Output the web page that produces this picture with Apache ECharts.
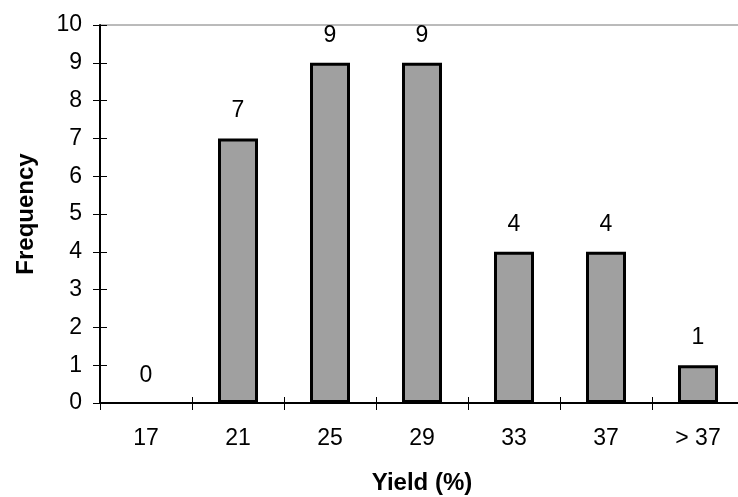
<!DOCTYPE html>
<html><head><meta charset="utf-8">
<script src="https://cdn.jsdelivr.net/npm/echarts@6/dist/echarts.min.js"></script>
<style>html,body{margin:0;padding:0;background:#fff}#c{width:738px;height:497px}</style>
</head><body><div id="c"></div>
<script>
const categories = ['17','21','25','29','33','37','> 37'];
const frequency = [0,7,9,9,4,4,1];
const yTicks = [0,1,2,3,4,5,6,7,8,9,10];

const chart = echarts.init(document.getElementById('c'), null, {renderer:'canvas'});
const font = '"Liberation Sans", Arial, sans-serif';
const tickFont = 23;
chart.setOption({
  animation:false,
  backgroundColor:'#fff',
  textStyle:{fontFamily:font},
  grid:{left:100,right:-6,top:25,bottom:94,containLabel:false,outerBoundsMode:'none',show:true,borderColor:'#777',borderWidth:1,backgroundColor:'transparent'},
  xAxis:[{
    type:'category', data:categories,
    name:'Yield (%)', nameLocation:'middle', nameGap:68,
    nameTextStyle:{fontFamily:font,fontWeight:'bold',fontSize:24,color:'#000'},
    axisLine:{lineStyle:{color:'#000',width:2}},
    axisTick:{show:true,length:7,lineStyle:{color:'#000',width:1}},
    axisLabel:{color:'#000',fontSize:tickFont,margin:24,fontFamily:font}
  },{
    type:'category', data:categories, position:'bottom',
    axisLine:{show:false},
    axisTick:{show:true,inside:true,length:6,lineStyle:{color:'#000',width:1}},
    axisLabel:{show:false}
  }],
  yAxis:[{
    type:'value', min:0, max:10, interval:1,
    name:'Frequency', nameLocation:'middle', nameGap:62, nameRotate:90,
    nameTextStyle:{fontFamily:font,fontWeight:'bold',fontSize:24,color:'#000'},
    axisLine:{show:true,lineStyle:{color:'#000',width:2}},
    axisTick:{show:true,length:7,lineStyle:{color:'#000',width:1}},
    axisLabel:{color:'#000',fontSize:tickFont,margin:18,fontFamily:font,
      formatter:function(v){return yTicks.indexOf(v)>=0?String(v):'';}},
    splitLine:{show:false}
  },{
    type:'value', min:0, max:10, interval:1, position:'left',
    axisLine:{show:false},
    axisTick:{show:true,inside:true,length:7,lineStyle:{color:'#000',width:1}},
    axisLabel:{show:false},
    splitLine:{show:false}
  }],
  series:[{
    type:'bar', barWidth:40,
    data:frequency.map(function(v){return v===0?{value:v,itemStyle:{borderWidth:0,color:'transparent'}}:v;}),
    itemStyle:{color:'#a0a0a0',borderColor:'#000',borderWidth:3},
    label:{show:true,position:'top',distance:16,color:'#000',fontSize:tickFont,fontFamily:font}
  }]
});
</script></body></html>
